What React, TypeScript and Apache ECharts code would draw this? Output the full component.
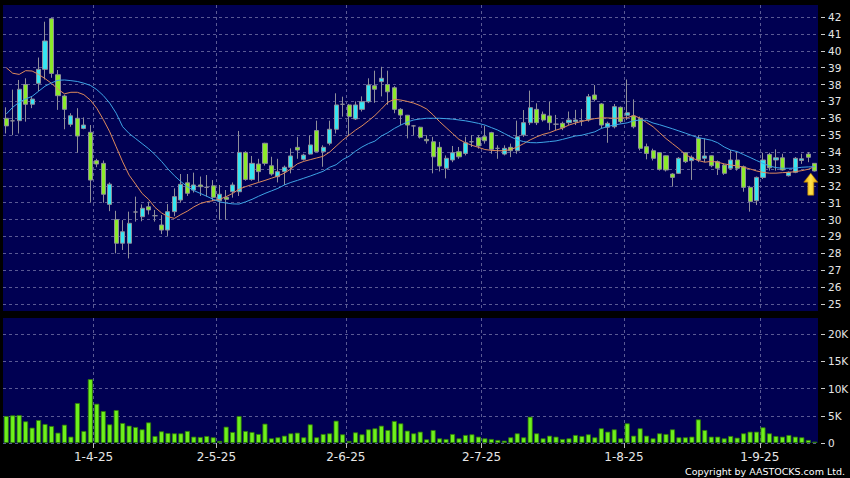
import React, { useEffect, useRef } from "react";
import * as echarts from "echarts";

const dates = [
  "13-3-25","14-3-25","17-3-25","18-3-25","19-3-25","20-3-25","21-3-25","24-3-25","25-3-25","26-3-25","27-3-25","28-3-25","31-3-25",
  "1-4-25","2-4-25","3-4-25","7-4-25","8-4-25","9-4-25","10-4-25","11-4-25","14-4-25","15-4-25","16-4-25","17-4-25","22-4-25","23-4-25","24-4-25","25-4-25","28-4-25","29-4-25","30-4-25",
  "2-5-25","6-5-25","7-5-25","8-5-25","9-5-25","12-5-25","13-5-25","14-5-25","15-5-25","16-5-25","19-5-25","20-5-25","21-5-25","22-5-25","23-5-25","26-5-25","27-5-25","28-5-25","29-5-25","30-5-25",
  "2-6-25","3-6-25","4-6-25","5-6-25","6-6-25","9-6-25","10-6-25","11-6-25","12-6-25","13-6-25","16-6-25","17-6-25","18-6-25","19-6-25","20-6-25","23-6-25","24-6-25","25-6-25","26-6-25","27-6-25","30-6-25",
  "2-7-25","3-7-25","4-7-25","7-7-25","8-7-25","9-7-25","10-7-25","11-7-25","14-7-25","15-7-25","16-7-25","17-7-25","18-7-25","21-7-25","22-7-25","23-7-25","24-7-25","25-7-25","28-7-25","29-7-25","30-7-25","31-7-25",
  "1-8-25","4-8-25","5-8-25","6-8-25","7-8-25","8-8-25","11-8-25","12-8-25","13-8-25","14-8-25","15-8-25","18-8-25","19-8-25","20-8-25","21-8-25","22-8-25","25-8-25","26-8-25","27-8-25","28-8-25","29-8-25",
  "1-9-25","2-9-25","3-9-25","4-9-25","5-9-25","8-9-25","9-9-25","10-9-25","11-9-25","12-9-25",
];

const opens = [
  36.0, 35.85, 35.86, 38.0, 36.83, 38.07, 38.9, 41.9, 38.58, 37.32,
  35.64, 36.0, 35.4, 35.17, 33.49, 33.33, 30.9, 30.0, 28.6, 28.6,
  30.45, 30.17, 30.76, 30.23, 29.68, 29.38, 30.47, 31.16, 32.18, 31.75,
  32.05, 31.91, 32.0, 31.12, 31.32, 31.65, 31.65, 33.98, 32.38, 33.29,
  34.52, 33.19, 32.54, 32.84, 33.1, 34.28, 33.57, 33.88, 35.27, 34.02,
  34.52, 35.35, 36.83, 36.79, 35.96, 36.53, 36.98, 37.93, 38.17, 38.0,
  37.81, 36.53, 36.18, 35.55, 35.47, 34.75, 34.61, 34.28, 33.04, 33.53,
  34.02, 33.92, 34.61, 34.85, 34.91, 35.15, 34.22, 33.88, 34.28, 34.08,
  35.01, 35.74, 36.53, 36.24, 36.14, 35.65, 35.7, 35.74, 35.8, 35.85,
  35.9, 37.38, 36.85, 35.47, 35.5, 36.65, 36.18, 36.14, 36.0, 34.32,
  34.08, 33.96, 33.78, 32.7, 32.74, 33.96, 33.49, 34.81, 33.63, 33.78,
  33.43, 33.23, 33.04, 33.53, 33.13, 31.91, 31.12, 32.5, 33.86, 33.53,
  33.66, 32.6, 32.8, 33.5, 33.88, 33.33,
];

const closes = [
  35.55, 35.85, 37.72, 36.83, 37.14, 38.9, 40.58, 38.66, 37.34, 36.53,
  36.15, 34.95, 35.6, 32.34, 33.29, 31.5, 32.1, 28.6, 29.28, 29.78,
  30.45, 30.67, 30.57, 30.23, 29.38, 30.47, 31.36, 32.09, 31.56, 32.05,
  31.95, 31.91, 31.32, 31.5, 31.2, 32.05, 33.98, 32.38, 33.33, 32.84,
  33.33, 32.7, 32.84, 33.1, 33.77, 34.12, 33.82, 34.42, 34.02, 34.28,
  35.35, 36.79, 36.83, 36.1, 36.79, 36.98, 37.97, 37.72, 38.37, 37.57,
  36.53, 36.19, 35.6, 35.55, 34.87, 34.67, 33.72, 33.17, 33.63, 33.96,
  33.72, 34.55, 34.61, 34.36, 34.67, 34.16, 34.22, 34.22, 34.08, 34.91,
  35.74, 36.63, 35.74, 35.9, 35.74, 35.65, 35.44, 35.9, 35.9, 35.85,
  37.28, 37.12, 35.6, 35.7, 36.69, 35.8, 36.33, 35.5, 34.22, 33.92,
  33.63, 32.98, 32.94, 32.5, 33.63, 33.43, 33.69, 33.53, 33.77, 33.19,
  33.04, 32.74, 33.53, 33.04, 31.91, 31.06, 32.5, 33.53, 33.07, 33.66,
  32.94, 32.8, 33.63, 33.6, 33.69, 32.88,
];

const lows = [
  35.1, 35.0, 35.1, 35.8, 36.6, 37.6, 38.3, 38.4, 36.5, 35.35,
  35.5, 33.96, 35.35, 31.0, 33.1, 31.0, 30.5, 28.0, 28.2, 27.7,
  29.88, 29.9, 30.3, 29.88, 29.14, 29.03, 30.2, 31.0, 31.4, 31.6,
  31.4, 31.36, 31.1, 30.0, 30.0, 31.3, 31.4, 32.3, 32.3, 32.24,
  33.2, 32.6, 32.2, 32.05, 32.74, 33.6, 33.5, 33.85, 34.0, 33.13,
  34.4, 35.1, 36.1, 35.0, 35.9, 36.4, 36.9, 36.92, 37.3, 36.8,
  36.3, 35.6, 34.81, 35.0, 34.8, 34.5, 32.74, 32.85, 32.44, 33.4,
  33.6, 33.8, 34.3, 34.2, 34.5, 33.9, 33.6, 33.8, 33.7, 33.9,
  34.9, 35.6, 35.6, 35.8, 35.3, 35.3, 35.3, 35.6, 35.6, 35.55,
  35.8, 37.0, 35.4, 34.55, 35.4, 35.7, 35.9, 35.4, 34.1, 33.57,
  33.5, 32.9, 32.85, 31.95, 32.7, 33.35, 32.35, 33.4, 33.4, 33.1,
  32.64, 32.65, 32.95, 32.9, 31.65, 30.47, 30.86, 32.4, 32.9, 32.9,
  32.9, 32.55, 32.75, 33.3, 33.4, 32.85,
];

const highs = [
  36.65, 37.7, 38.27, 38.37, 37.3, 39.6, 41.72, 41.95, 38.86, 37.4,
  36.3, 36.6, 36.05, 35.6, 33.6, 33.5, 32.2, 30.52, 29.97, 30.47,
  31.36, 30.9, 31.06, 30.57, 30.27, 30.92, 31.85, 32.7, 32.7, 32.78,
  32.55, 32.64, 32.34, 32.05, 31.75, 32.2, 35.25, 34.05, 33.77, 33.6,
  34.55, 33.72, 33.6, 33.2, 34.22, 34.9, 33.9, 35.0, 35.86, 34.4,
  35.86, 37.48, 37.28, 36.85, 37.0, 37.3, 38.37, 38.82, 39.05, 38.82,
  37.9, 36.6, 36.2, 35.6, 35.5, 35.0, 34.9, 34.6, 33.8, 34.36,
  34.3, 34.91, 35.0, 35.0, 35.55, 35.2, 34.4, 34.4, 34.5, 35.86,
  36.49, 37.64, 36.89, 36.4, 36.98, 36.2, 35.8, 36.4, 36.5, 36.55,
  37.44, 37.97, 36.9, 35.8, 36.85, 36.7, 38.3, 37.12, 36.1, 34.5,
  34.2, 34.0, 33.8, 32.75, 33.7, 34.0, 33.8, 35.0, 34.81, 33.8,
  33.5, 33.3, 34.12, 34.0, 33.2, 32.0, 32.55, 33.96, 33.96, 34.16,
  33.9, 32.85, 33.7, 33.9, 34.0, 33.35,
];

const maShort = [
  39.0, 38.67, 38.6, 38.82, 38.8, 38.6, 38.35, 38.07, 37.72, 37.45,
  37.54, 37.54, 37.4, 37.08, 36.59, 35.93, 35.2, 34.31, 33.42, 32.63,
  32.1, 31.55, 31.2, 30.72, 30.4, 30.17, 30.07, 30.3, 30.5, 30.75,
  30.95, 31.06, 31.12, 31.2, 31.36, 31.55, 31.8, 31.95, 32.08, 32.2,
  32.32, 32.45, 32.58, 32.75, 33.0, 33.3, 33.45, 33.55, 33.65, 33.75,
  34.0, 34.35, 34.7, 35.0, 35.3, 35.55, 35.85, 36.17, 36.55, 36.95,
  37.12, 37.08, 37.0, 36.9, 36.75, 36.55, 36.2, 35.8, 35.45, 35.1,
  34.75, 34.55, 34.4, 34.28, 34.15, 34.1, 34.08, 34.08, 34.15, 34.3,
  34.5, 34.72, 34.9, 35.05, 35.15, 35.3, 35.42, 35.6, 35.72, 35.82,
  35.9, 35.98, 36.03, 36.02, 36.0, 36.02, 36.03, 36.17, 36.0, 35.75,
  35.5, 35.15, 34.8, 34.5, 34.2, 33.85, 33.65, 33.5, 33.4, 33.45,
  33.4, 33.3, 33.23, 33.18, 33.1, 33.0, 32.88, 32.8, 32.75, 32.75,
  32.78, 32.8, 32.84, 32.9, 32.98, 33.15,
];

const maLong = [
  36.25, 36.65, 36.95, 37.15, 37.3, 37.6, 37.9, 38.1, 38.25, 38.27,
  38.23, 38.18, 38.08, 37.95, 37.7, 37.35, 36.9, 36.3, 35.5, 35.1,
  34.8, 34.5, 34.2, 33.85, 33.45, 33.0, 32.6, 32.25, 31.95, 31.72,
  31.55, 31.38, 31.2, 31.05, 30.98, 30.93, 30.92, 31.05, 31.2, 31.38,
  31.55, 31.7, 31.85, 32.05, 32.2, 32.32, 32.45, 32.58, 32.72, 32.86,
  33.1, 33.25, 33.55, 33.75, 34.05, 34.3, 34.5, 34.65, 34.95, 35.15,
  35.4, 35.6, 35.78, 35.9, 35.96, 36.0, 36.0, 36.0, 35.98, 35.95,
  35.9, 35.85, 35.78, 35.7, 35.6, 35.45, 35.3, 35.1, 34.9, 34.72,
  34.62, 34.56, 34.55, 34.58, 34.62, 34.66, 34.75, 34.85, 34.95, 35.0,
  35.1, 35.2, 35.4, 35.52, 35.6, 35.67, 35.73, 35.85, 35.9, 35.88,
  35.72, 35.62, 35.5, 35.38, 35.25, 35.12, 34.98, 34.85, 34.78, 34.7,
  34.55, 34.3, 34.12, 34.03, 33.85, 33.68, 33.5, 33.33, 33.17, 33.08,
  33.04, 33.04, 33.05, 33.1, 33.12, 33.13,
];

const volumes = [
  4950, 5070, 5130, 3970, 2810, 4210, 3480, 3110, 1890, 3360,
  1160, 7330, 2200, 11720, 7200, 5860, 3420, 6040, 3660, 3170,
  2930, 2500, 3780, 1280, 2140, 1830, 1770, 1770, 2200, 1160,
  1100, 1280, 1040, 370, 2990, 2010, 4950, 2200, 2010, 1650,
  3540, 855, 1040, 1340, 1770, 1890, 1040, 3420, 1040, 1650,
  1770, 4090, 1590, 370, 1950, 1590, 2500, 2690, 3170, 2380,
  4030, 3600, 2260, 1770, 2075, 670, 2380, 855, 730, 1650,
  855, 1465, 1590, 1160, 855, 730, 550, 430, 1040, 1770,
  1040, 4820, 1770, 855, 1340, 1160, 730, 855, 1465, 1280,
  1590, 1040, 2690, 2075, 2500, 855, 3600, 1340, 2690, 1340,
  855, 1770, 1650, 2500, 1040, 1040, 1160, 4330, 2380, 1160,
  1160, 855, 1280, 975, 1770, 2075, 2075, 2870, 1770, 1280,
  1160, 1465, 1160, 1040, 550, 240,
];

const priceTicks = { min: 25, max: 42, step: 1 };
const volumeTicks = { min: 0, max: 20000, step: 5000 };
const arrowPrice = 32.1;
const copyright = "Copyright by AASTOCKS.com Ltd.";

const NAVY = "#000052";
const GRIDLINE = "#5a5a94";
const LABEL = "#e6e6e6";
const FONT = "DejaVu Sans";

export default function App() {
  const ref = useRef<HTMLDivElement>(null);

  useEffect(() => {
    document.body.style.margin = "0";
    document.body.style.background = "#000";
    if (!ref.current) return;
    const chart = echarts.init(ref.current, undefined, { renderer: "svg" });

    const N = dates.length;
    const monthStarts: number[] = [];
    dates.forEach((d, i) => {
      if (i > 0 && d.split("-")[1] !== dates[i - 1].split("-")[1]) monthStarts.push(i);
    });
    // vertical guide lines sit on the boundary right after each month's first bar
    const lineAt = new Set(monthStarts.map((i) => i + 1));
    const boundaries = Array.from({ length: N + 1 }, (_, i) => String(i));
    const candles = dates.map((_, i) => [opens[i], closes[i], lows[i], highs[i]]);

    const dashed = { color: GRIDLINE, width: 1, type: [3, 3] as any };
    const gridBase = { left: 3, width: 815, outerBoundsMode: "none" as any };

    const bgXAxis = (gridIndex: number, withLabels: boolean) => ({
      type: "category",
      gridIndex,
      data: boundaries,
      boundaryGap: false,
      axisLine: { show: false },
      axisTick: withLabels
        ? { show: true, interval: (idx: number) => lineAt.has(idx), length: 5, lineStyle: { color: "#bbbbbb" } }
        : { show: false },
      axisLabel: withLabels
        ? {
            show: true,
            interval: (idx: number) => lineAt.has(idx),
            formatter: (_v: string, idx: number) => (lineAt.has(idx) ? dates[idx - 1] : ""),
            color: LABEL,
            fontFamily: FONT,
            fontSize: 12,
            margin: 8,
          }
        : { show: false },
      splitLine: { show: true, interval: (idx: number) => lineAt.has(idx), lineStyle: dashed },
    });

    const dataXAxis = (gridIndex: number) => ({
      type: "category",
      gridIndex,
      data: dates,
      boundaryGap: true,
      show: false,
    });

    const option: any = {
      animation: false,
      backgroundColor: "#000000",
      grid: [
        { ...gridBase, top: 5, height: 306, show: true, backgroundColor: NAVY, borderWidth: 0 },
        { ...gridBase, top: 17, height: 287 },
        { ...gridBase, top: 318, height: 125, show: true, backgroundColor: NAVY, borderWidth: 0 },
        { ...gridBase, top: 334, height: 109 },
      ],
      xAxis: [bgXAxis(0, false), dataXAxis(1), bgXAxis(2, true), dataXAxis(3)],
      yAxis: [
        { type: "value", gridIndex: 0, show: false, min: 0, max: 1 },
        {
          type: "value",
          gridIndex: 1,
          position: "right",
          offset: 3,
          min: priceTicks.min,
          max: priceTicks.max,
          interval: priceTicks.step,
          axisLine: { show: false },
          axisTick: { show: true, length: 4, lineStyle: { color: "#cccccc" } },
          axisLabel: { color: LABEL, fontFamily: FONT, fontSize: 10.5, margin: 7 },
          splitLine: { show: true, lineStyle: dashed },
        },
        { type: "value", gridIndex: 2, show: false, min: 0, max: 1 },
        {
          type: "value",
          gridIndex: 3,
          position: "right",
          offset: 3,
          min: volumeTicks.min,
          max: volumeTicks.max,
          interval: volumeTicks.step,
          axisLine: { show: false },
          axisTick: { show: true, length: 4, lineStyle: { color: "#cccccc" } },
          axisLabel: {
            color: LABEL,
            fontFamily: FONT,
            fontSize: 10.5,
            margin: 7,
            formatter: (v: number) => (v === 0 ? "0" : v / 1000 + "K"),
          },
          splitLine: { show: true, lineStyle: dashed },
        },
      ],
      series: [
        {
          type: "candlestick",
          xAxisIndex: 1,
          yAxisIndex: 1,
          data: candles,
          barWidth: 4.6,
          clip: false,
          itemStyle: {
            color: "#35e6f2",
            color0: "#8bea2a",
            borderColor: "#8f8f9a",
            borderColor0: "#8f8f9a",
            borderWidth: 1,
          },
          markPoint: {
            silent: true,
            symbol: "path://M7,0L14,9L10,9L10,22L4,22L4,9L0,9Z",
            symbolSize: [14, 22],
            label: { show: false },
            itemStyle: {
              color: new echarts.graphic.LinearGradient(0, 0, 1, 0, [
                { offset: 0, color: "#e8a400" },
                { offset: 0.5, color: "#ffe34a" },
                { offset: 1, color: "#e8a400" },
              ]),
              borderColor: "#b07800",
              borderWidth: 0.6,
            },
            data: [{ coord: [dates[N - 1], arrowPrice], symbolOffset: [-4, 0] }],
          },
        },
        {
          type: "line",
          xAxisIndex: 1,
          yAxisIndex: 1,
          data: maShort,
          showSymbol: false,
          symbol: "none",
          lineStyle: { color: "#de8a5c", width: 1 },
        },
        {
          type: "line",
          xAxisIndex: 1,
          yAxisIndex: 1,
          data: maLong,
          showSymbol: false,
          symbol: "none",
          lineStyle: { color: "#3ea4e6", width: 1 },
        },
        {
          type: "bar",
          xAxisIndex: 3,
          yAxisIndex: 3,
          data: volumes,
          barWidth: 5,
          itemStyle: { color: "#6ef01c", borderColor: "#2f7a08", borderWidth: 0.8 },
        },
      ],
      graphic: [
        {
          type: "text",
          right: 5,
          bottom: 2,
          silent: true,
          style: { text: copyright, fill: "#ffffff", fontFamily: FONT, fontSize: 9.5 },
        },
      ],
    };

    chart.setOption(option);
    return () => chart.dispose();
  }, []);

  return (
    <div
      ref={ref}
      style={{ position: "absolute", left: 0, top: 0, width: 850, height: 478, background: "#000" }}
    />
  );
}
